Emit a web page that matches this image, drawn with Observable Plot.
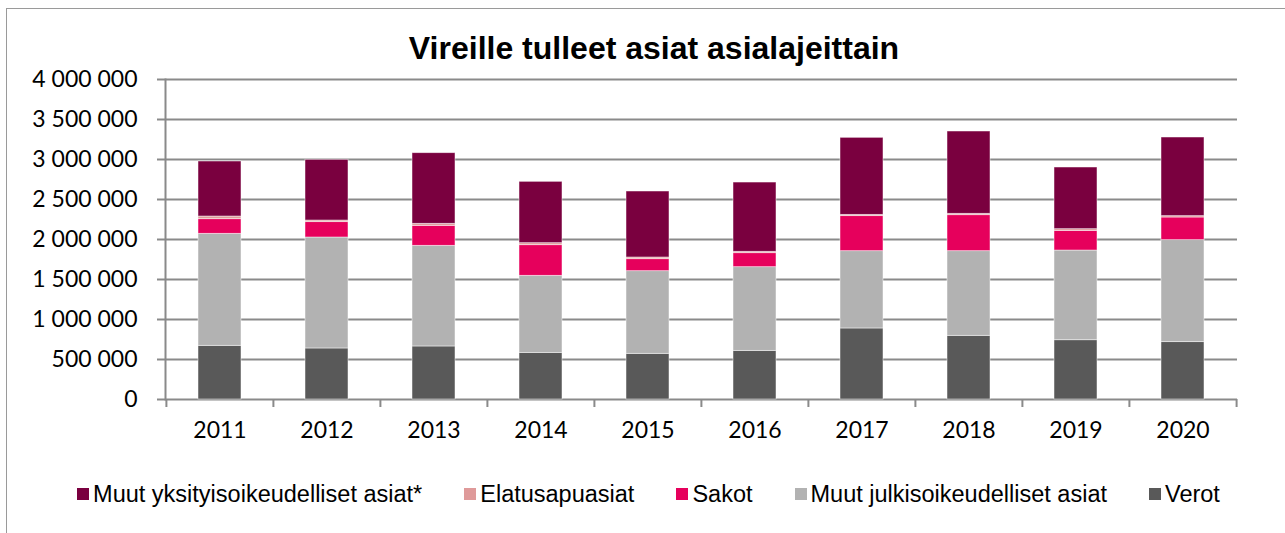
<!DOCTYPE html>
<html>
<head>
<meta charset="utf-8">
<script src="https://cdn.jsdelivr.net/npm/d3@7"></script>
<script src="https://cdn.jsdelivr.net/npm/@observablehq/plot@0.6"></script>
<style>
  html, body { margin: 0; padding: 0; background: #fff; }
  #wrap { position: relative; width: 1285px; height: 533px; overflow: hidden; }
  #border { position: absolute; left: 6px; top: 8px; width: 1300px; height: 600px; border: 1px solid #9a9a9a; box-sizing: border-box; }
  #title { position: absolute; left: 0; top: 30px; width: 1308px; text-align: center;
    font-family: "Liberation Sans", Arial, sans-serif; font-weight: bold; font-size: 32px; line-height: 36px; color: #000; }
  #chart { position: absolute; left: 0; top: 65px; }
  #legend { position: absolute; left: 0; top: 480px; width: 1297px; display: flex; justify-content: center; gap: 42px;
    font-family: "Liberation Sans", Arial, sans-serif; font-size: 23.5px; line-height: 28px; color: #000; }
  .item { display: flex; align-items: center; white-space: nowrap; }
  .sw { width: 12px; height: 12px; margin-right: 4px; }
</style>
</head>
<body>
<div id="wrap">
  <div id="border"></div>
  <div id="title">Vireille tulleet asiat asialajeittain</div>
  <div id="chart"></div>
  <div id="legend"></div>
</div>
<script>
const years = ["2011","2012","2013","2014","2015","2016","2017","2018","2019","2020"];
const verot    = [671000, 638000, 663000, 583000, 571000, 608000, 888000, 796000, 741000, 717000];
const muutJulk = [1400000, 1387000, 1258000, 963000, 1033000, 1046000, 966000, 1058000, 1121000, 1275000];
const sakot    = [183000, 192000, 250000, 383000, 150000, 175000, 438000, 450000, 246000, 283000];
const elatus   = [33000, 20000, 25000, 25000, 21000, 17000, 16000, 17000, 21000, 17000];
const muutYks  = [688000, 759000, 883000, 767000, 825000, 866000, 963000, 1029000, 771000, 983000];

// stacking order bottom -> top
const seriesNames = ["Verot", "Muut julkisoikeudelliset asiat", "Sakot", "Elatusapuasiat", "Muut yksityisoikeudelliset asiat*"];
const seriesValues = [verot, muutJulk, sakot, elatus, muutYks];
const seriesColors = ["#595959", "#b2b2b2", "#e6005c", "#df9a9a", "#7a003f"];
// legend order
const legendNames = ["Muut yksityisoikeudelliset asiat*", "Elatusapuasiat", "Sakot", "Muut julkisoikeudelliset asiat", "Verot"];
const yTicks = [0, 500000, 1000000, 1500000, 2000000, 2500000, 3000000, 3500000, 4000000];

const rows = [];
seriesNames.forEach((s, i) => years.forEach((y, j) => rows.push({year: y, series: s, value: seriesValues[i][j]})));

const fmt = d => d3.format(",")(d).replace(/,/g, " ");

const W = 1285, ML = 165, MR = 48;
const pInner = 0.6, pOuter = 0.3;
const step = (W - ML - MR) / (years.length - pInner + 2 * pOuter);
const grid = "#8a8a8a";

const chart = Plot.plot({
  width: W, height: 384,
  marginLeft: ML, marginRight: MR, marginTop: 14, marginBottom: 50,
  x: {domain: years, paddingInner: pInner, paddingOuter: pOuter, align: 0.5},
  y: {domain: [0, 4000000]},
  color: {domain: seriesNames, range: seriesColors},
  style: {fontFamily: "Lato, sans-serif", fontSize: "23px", color: "#000", background: "transparent", overflow: "visible"},
  marks: [
    Plot.ruleY(yTicks, {stroke: grid, strokeWidth: 2}),
    Plot.barY(rows, Plot.stackY({order: seriesNames}, {x: "year", y: "value", fill: "series", stroke: "#fff", strokeWidth: 0.8, strokeOpacity: 0.6})),
    Plot.frame({anchor: "left", stroke: grid, strokeWidth: 2}),
    Plot.ruleX(years, {x: d => d, dx: -step / 2, y1: 0, y2: -100000, stroke: grid, strokeWidth: 2}),
    Plot.ruleX(years.slice(-1), {x: d => d, dx: step / 2, y1: 0, y2: -100000, stroke: grid, strokeWidth: 2}),
    Plot.axisY({ticks: yTicks, tickSize: 8, tickPadding: 20, tickFormat: fmt, stroke: grid, strokeWidth: 2, label: null}),
    Plot.axisX({tickSize: 0, tickPadding: 22, label: null})
  ]
});
document.getElementById("chart").appendChild(chart);

const legend = document.getElementById("legend");
legendNames.forEach(name => {
  const i = seriesNames.indexOf(name);
  const it = document.createElement("div");
  it.className = "item";
  const sw = document.createElement("span");
  sw.className = "sw";
  sw.style.background = seriesColors[i];
  const tx = document.createElement("span");
  tx.textContent = name;
  it.appendChild(sw); it.appendChild(tx);
  legend.appendChild(it);
});
</script>
</body>
</html>
